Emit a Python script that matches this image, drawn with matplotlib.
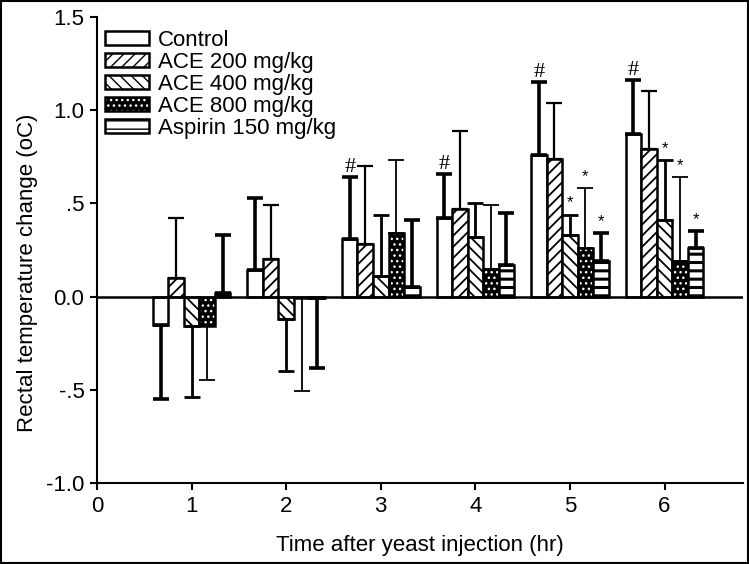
import numpy as np
import matplotlib
matplotlib.use('Agg')
import matplotlib.pyplot as plt
from matplotlib.patches import Rectangle
from matplotlib.legend_handler import HandlerTuple

plt.rcParams['font.family'] = ['Liberation Sans', 'DejaVu Sans']

# data (mean change and one-sided error)
times = [1, 2, 3, 4, 5, 6]
groups = ['Control', 'ACE 200 mg/kg', 'ACE 400 mg/kg', 'ACE 800 mg/kg', 'Aspirin 150 mg/kg']

control = [-0.15, 0.14, 0.31, 0.42, 0.76, 0.87]
ace200 = [0.10, 0.20, 0.28, 0.47, 0.74, 0.79]
ace400 = [-0.16, -0.12, 0.11, 0.32, 0.33, 0.41]
ace800 = [-0.16, -0.005, 0.34, 0.15, 0.26, 0.19]
aspirin = [0.02, -0.005, 0.05, 0.17, 0.19, 0.26]

control_err = [0.40, 0.39, 0.33, 0.24, 0.39, 0.29]
ace200_err = [0.32, 0.29, 0.42, 0.42, 0.30, 0.31]
ace400_err = [0.38, 0.28, 0.33, 0.18, 0.11, 0.32]
ace800_err = [0.29, 0.50, 0.39, 0.34, 0.32, 0.45]
aspirin_err = [0.31, 0.38, 0.36, 0.28, 0.15, 0.09]

# '#' over control, '*' over treated groups (group index, time)
hash_times = [3, 4, 5, 6]
star_marks = [(2, 5), (3, 5), (4, 5), (2, 6), (3, 6), (4, 6)]

yticks = [-1.0, -0.5, 0.0, 0.5, 1.0, 1.5]
ytick_labels = ['-1.0', '-.5', '0.0', '.5', '1.0', '1.5']

means = [control, ace200, ace400, ace800, aspirin]
errs = [control_err, ace200_err, ace400_err, ace800_err, aspirin_err]

fig = plt.figure(figsize=(7.49, 5.64), dpi=100)
ax = fig.add_axes([0.1295, 0.1436, 0.8625, 0.8264])

w = 0.164
fs = 16
hatches = ['', '///', '\\\\\\', None, '--']
err_lw = [2.6, 1.6, 2.0, 1.3, 2.6]
handles = []

for i in range(5):
    x = np.array(times) + (i - 2) * w
    m = np.array(means[i])
    e = np.array(errs[i])
    if i == 3:
        # dark dotted fill: black face with white dots, then black outline
        with plt.rc_context({'hatch.linewidth': 1.0}):
            ax.bar(x, m, w, color='black', edgecolor='white', hatch='...', lw=0, zorder=2)
            h1 = Rectangle((0, 0), 1, 1, facecolor='black', edgecolor='white', hatch='...', lw=0)
        ax.bar(x, m, w, color='none', edgecolor='black', lw=1.8, zorder=3)
        h2 = Rectangle((0, 0), 1, 1, facecolor='none', edgecolor='black', lw=1.8)
        handles.append((h1, h2))
    else:
        hlw = 2.2 if i == 4 else 1.3
        with plt.rc_context({'hatch.linewidth': hlw}):
            b = ax.bar(x, m, w, color='white', edgecolor='black', hatch=hatches[i], lw=1.8, zorder=3)
        handles.append(b)
    lower = np.where(m < 0, e, 0)
    upper = np.where(m >= 0, e, 0)
    ax.errorbar(x, m, yerr=[lower, upper], fmt='none', ecolor='black',
                elinewidth=err_lw[i], capsize=5.5, capthick=err_lw[i], zorder=4)

for t in hash_times:
    k = times.index(t)
    ax.annotate('#', (t - 2 * w, control[k] + control_err[k]), xytext=(0, 0),
                textcoords='offset points', ha='center', va='bottom',
                fontsize=16, family='Liberation Serif')

for g, t in star_marks:
    k = times.index(t)
    ax.annotate('*', (t + (g - 2) * w, means[g][k] + errs[g][k]), xytext=(0, 3),
                textcoords='offset points', ha='center', va='bottom', fontsize=12)

ax.axhline(0, color='black', lw=1.8, zorder=5)

ax.set_xlim(0, 6.83)
ax.set_ylim(-1.0, 1.5)
ax.set_xticks(range(0, 7))
ax.set_yticks(yticks)
ax.set_yticklabels(ytick_labels)
ax.spines['top'].set_visible(False)
ax.spines['right'].set_visible(False)
ax.spines['left'].set_linewidth(1.5)
ax.spines['bottom'].set_linewidth(1.5)
ax.tick_params(direction='out', length=5, width=1.5, labelsize=fs, pad=4)

ax.set_xlabel('Time after yeast injection (hr)', fontsize=fs, labelpad=13)
ax.set_ylabel('Rectal temperature change (oC)', fontsize=fs)
ax.yaxis.set_label_coords(-0.092, 0.45)

ax.legend(handles, groups, loc='upper left', bbox_to_anchor=(0.012, 0.972),
          frameon=False, fontsize=fs, handlelength=2.0, handleheight=0.6,
          handletextpad=0.4, labelspacing=0.04, borderpad=0, borderaxespad=0,
          handler_map={tuple: HandlerTuple(ndivide=1, pad=0)})

fig.add_artist(Rectangle((0.001, 0.001), 0.998, 0.997, transform=fig.transFigure,
                         fill=False, edgecolor='black', lw=1.5))

fig.savefig('out.png', dpi=100)
